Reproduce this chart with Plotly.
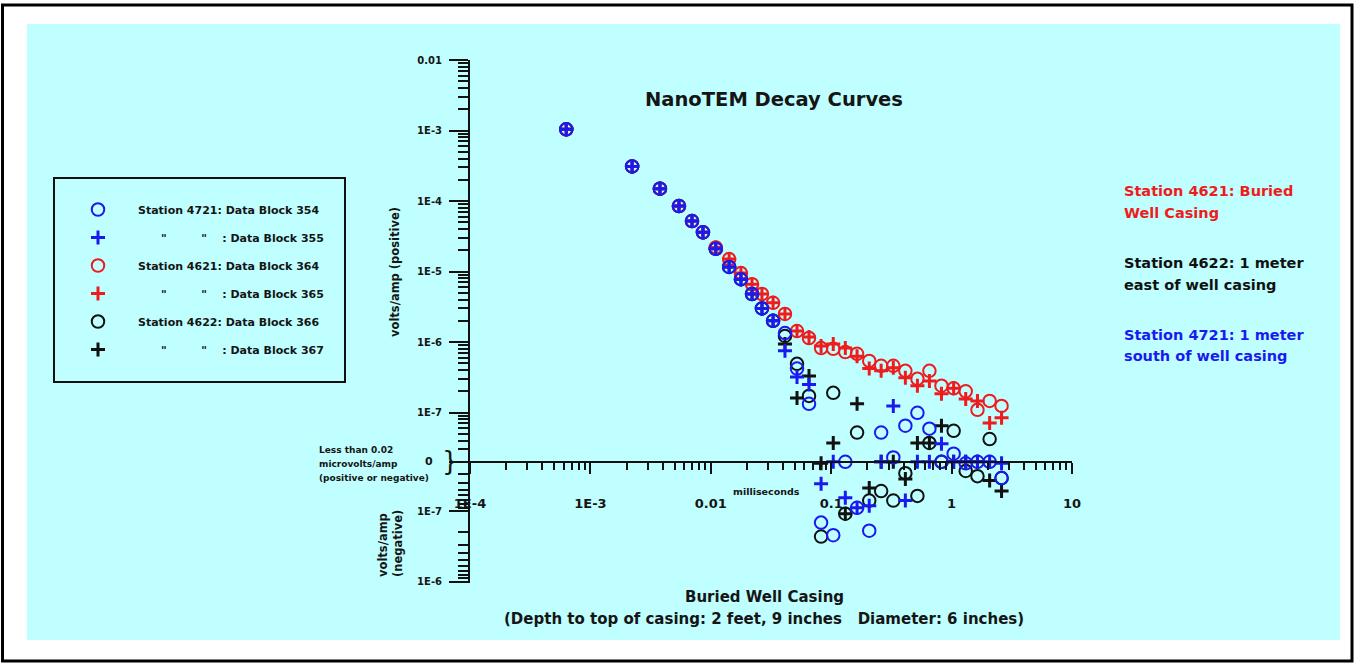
import math
import plotly.graph_objects as go

# ---------------- data (time in ms, response in volts/amp; negative = negative polarity,
# 0 = "less than 0.02 microvolts/amp") ----------------
gate_ms = [0.00063, 0.00222, 0.00378, 0.00544, 0.00698, 0.00861, 0.0110, 0.0142, 0.0178,
           0.0220, 0.0266, 0.0329, 0.0413, 0.0520, 0.0654, 0.0824, 0.104, 0.131, 0.164,
           0.207, 0.260, 0.328, 0.413, 0.520, 0.654, 0.824, 1.04, 1.31, 1.64, 2.07, 2.60]

block_354 = [1.04e-3, 3.1e-4, 1.5e-4, 8.5e-5, 5.2e-5, 3.6e-5, 2.1e-5, 1.16e-5, 7.8e-6, 4.8e-6,
             3.0e-6, 2.0e-6, 1.34e-6, 4.2e-7, 1.33e-7, -1.46e-7, -2.2e-7, 0, -9.0e-8, -1.9e-7,
             5.2e-8, 2.3e-8, 6.5e-8, 9.9e-8, 5.9e-8, 0, 2.6e-8, -2.1e-8, 0, 0, -3.4e-8]
block_355 = [1.04e-3, 3.1e-4, 1.5e-4, 8.5e-5, 5.2e-5, 3.6e-5, 2.1e-5, 1.16e-5, 7.8e-6, 4.8e-6,
             3.0e-6, 2.0e-6, 7.5e-7, 3.2e-7, 2.5e-7, -4.1e-8, 0, -6.5e-8, -9.0e-8, -8.4e-8,
             0, 1.24e-7, -7.1e-8, 0, 0, 3.6e-8, 0, 0, 0, 0, -2.1e-8]
block_364 = [1.04e-3, 3.1e-4, 1.5e-4, 8.5e-5, 5.2e-5, 3.6e-5, 2.2e-5, 1.5e-5, 9.5e-6, 6.6e-6,
             4.8e-6, 3.6e-6, 2.5e-6, 1.43e-6, 1.14e-6, 8.2e-7, 8.0e-7, 7.2e-7, 6.8e-7, 5.4e-7,
             4.6e-7, 4.6e-7, 3.9e-7, 3.0e-7, 3.9e-7, 2.4e-7, 2.2e-7, 2.0e-7, 1.09e-7, 1.46e-7, 1.24e-7]
block_365 = [1.04e-3, 3.1e-4, 1.5e-4, 8.5e-5, 5.2e-5, 3.6e-5, 2.2e-5, 1.5e-5, 9.5e-6, 6.6e-6,
             4.8e-6, 3.6e-6, 2.5e-6, 1.43e-6, 1.18e-6, 8.8e-7, 9.4e-7, 8.2e-7, 6.3e-7, 4.2e-7,
             3.9e-7, 4.3e-7, 3.1e-7, 2.4e-7, 2.8e-7, 1.84e-7, 2.2e-7, 1.56e-7, 1.46e-7, 7.1e-8, 8.4e-8]
block_366 = [1.04e-3, 3.1e-4, 1.5e-4, 8.5e-5, 5.2e-5, 3.6e-5, 2.1e-5, 1.16e-5, 7.8e-6, 4.8e-6,
             3.0e-6, 2.0e-6, 1.22e-6, 4.9e-7, 1.72e-7, -2.3e-7, 1.9e-7, -1.09e-7, 5.2e-8, -7.1e-8,
             -5.2e-8, -7.1e-8, -2.9e-8, -6.1e-8, 3.7e-8, 0, 5.5e-8, -2.7e-8, -3.2e-8, 4.2e-8, -3.4e-8]
block_367 = [1.04e-3, 3.1e-4, 1.5e-4, 8.5e-5, 5.2e-5, 3.6e-5, 2.1e-5, 1.16e-5, 7.8e-6, 4.8e-6,
             3.0e-6, 2.0e-6, 9.4e-7, 1.6e-7, 3.3e-7, -2.1e-8, 3.7e-8, -1.09e-7, 1.33e-7, -4.7e-8,
             0, 0, -3.5e-8, 3.7e-8, 3.7e-8, 6.5e-8, 0, 0, 0, -3.7e-8, -5.2e-8]

x_tick_vals = [1e-4, 1e-3, 0.01, 0.1, 1, 10]
x_tick_text = ["1E-4", "1E-3", "0.01", "0.1", "1", "10"]
y_tick_vals = [0.01, 1e-3, 1e-4, 1e-5, 1e-6, 1e-7, -1e-7, -1e-6]
y_tick_text = ["0.01", "1E-3", "1E-4", "1E-5", "1E-6", "1E-7", "1E-7", "1E-6"]

FLOOR = 2e-8  # 0.02 microvolts/amp


def to_axis(v):
    """Two-sided log scale: positive decades above the axis, negative below."""
    if abs(v) <= FLOOR:
        return 0.0
    return math.copysign(math.log10(abs(v) / FLOOR), v)


# ---------------- geometry ----------------
W, H = 1356, 664
L, R, T, B = 470, 284, 60, 81
PW, PH = W - L - R, H - T - B
Y_MIN, Y_MAX = -1.72, 5.70


def px(x):
    return (x - L) / PW


def py(y):
    return (H - B - y) / PH


BLUE, RED, BLACK = "#1a1af0", "#ee1c1c", "#111111"
TXT = "#151515"
FAM = "DejaVu Sans"

fig = go.Figure()

ditto = "\u00a0" * 6 + '"' + "\u00a0" * 9 + '"' + "\u00a0" * 4
series = [
    (block_366, "Station 4622: Data Block 366", BLACK, "c", 5),
    (block_367, ditto + ": Data Block 367", BLACK, "x", 6),
    (block_364, "Station 4621: Data Block 364", RED, "c", 3),
    (block_365, ditto + ": Data Block 365", RED, "x", 4),
    (block_354, "Station 4721: Data Block 354", BLUE, "c", 1),
    (block_355, ditto + ": Data Block 355", BLUE, "x", 2),
]
for vals, name, col, kind, rank in series:
    if kind == "c":
        marker = dict(symbol="circle-open", size=12.5, color=col, line=dict(width=2, color=col))
    else:
        marker = dict(symbol="cross-thin-open", size=10, color=col, line=dict(width=3, color=col))
    fig.add_trace(go.Scatter(
        x=gate_ms, y=[to_axis(v) for v in vals], mode="markers", name=name,
        marker=marker, legendgroup=name, legendrank=rank, cliponaxis=False,
    ))

# ticks
minor_x = [k * 10 ** d for d in range(-4, 1) for k in range(2, 10)]
minor_y = []
for d in range(-8, -2):
    for k in range(2, 10):
        v = k * 10 ** d
        if FLOOR < v < 0.01:
            minor_y.append(to_axis(v))
for d in range(-8, -6):
    for k in range(2, 10):
        v = k * 10 ** d
        if FLOOR < v < 1e-6:
            minor_y.append(to_axis(-v))

tickfont_x = dict(family=FAM, size=13, color=TXT, weight="bold")
tickfont_y = dict(family=FAM, size=10, color=TXT, weight="bold")

fig.update_layout(
    width=W, height=H, autosize=False,
    margin=dict(l=L, r=R, t=T, b=B, pad=0),
    paper_bgcolor="white", plot_bgcolor="rgba(0,0,0,0)",
    showlegend=True,
    legend=dict(
        x=px(58), y=py(195), xanchor="left", yanchor="top",
        bgcolor="rgba(0,0,0,0)", borderwidth=0,
        font=dict(family=FAM, size=11, color=TXT, weight="bold"),
        itemwidth=70, tracegroupgap=9, itemclick=False, itemdoubleclick=False,
    ),
    xaxis=dict(
        type="log", range=[-4, 1], anchor="free",
        position=(0 - Y_MIN) / (Y_MAX - Y_MIN),
        showline=True, linecolor=BLACK, linewidth=2,
        ticks="outside", ticklen=11, tickwidth=2, tickcolor=BLACK,
        tickmode="array", tickvals=x_tick_vals, ticktext=x_tick_text,
        tickfont=tickfont_x, ticklabelstandoff=19,
        minor=dict(tickmode="array", tickvals=minor_x, ticks="outside", ticklen=7,
                   tickwidth=2, tickcolor=BLACK, showgrid=False),
        showgrid=False, zeroline=False,
    ),
    yaxis=dict(
        range=[Y_MIN, Y_MAX],
        showline=True, linecolor=BLACK, linewidth=2,
        ticks="outside", ticklen=19, tickwidth=2, tickcolor=BLACK,
        tickmode="array", tickvals=[to_axis(v) for v in y_tick_vals] + [0.0],
        ticktext=y_tick_text + [""],
        tickfont=tickfont_y, ticklabelstandoff=5,
        minor=dict(tickmode="array", tickvals=minor_y, ticks="outside", ticklen=10,
                   tickwidth=2, tickcolor=BLACK, showgrid=False),
        showgrid=False, zeroline=False,
    ),
)

# background panel, frame, legend box
shapes = [
    dict(type="rect", xref="paper", yref="paper", x0=px(27), x1=px(1340), y0=py(24), y1=py(640),
         fillcolor="#bfffff", line=dict(width=0), layer="below"),
    dict(type="rect", xref="paper", yref="paper", x0=px(2.5), x1=px(1352), y0=py(5), y1=py(661),
         fillcolor="rgba(0,0,0,0)", line=dict(width=3, color="black"), layer="below"),
    dict(type="rect", xref="paper", yref="paper", x0=px(54), x1=px(345), y0=py(178), y1=py(382),
         fillcolor="rgba(0,0,0,0)", line=dict(width=2, color=BLACK), layer="above"),
]
fig.update_layout(shapes=shapes)


def ann(text, x, y, size, color=TXT, xanchor="center", angle=0, weight="bold"):
    fig.add_annotation(text=text, x=px(x), y=py(y), xref="paper", yref="paper",
                       xanchor=xanchor, yanchor="middle", showarrow=False, textangle=angle,
                       font=dict(family=FAM, size=size, color=color, weight=weight))


ann("NanoTEM Decay Curves", 774, 99, 19.5)
ann("Station 4621: Buried", 1122, 191, 14.5, RED, "left")
ann("Well Casing", 1122, 213, 14.5, RED, "left")
ann("Station 4622: 1 meter", 1122, 263, 14.5, BLACK, "left")
ann("east of well casing", 1122, 285, 14.5, BLACK, "left")
ann("Station 4721: 1 meter", 1122, 335, 14.5, BLUE, "left")
ann("south of well casing", 1122, 356, 14.5, BLUE, "left")
ann("Buried Well Casing", 764, 597, 15)
ann("(Depth to top of casing: 2 feet, 9 inches\u00a0\u00a0\u00a0Diameter: 6 inches)", 764, 619, 15)
ann("Less than 0.02", 317, 450, 9, xanchor="left")
ann("microvolts/amp", 317, 464, 9, xanchor="left")
ann("(positive or negative)", 317, 478, 9, xanchor="left")
ann("0", 429, 461, 11)
ann("}", 450, 461, 26, weight="normal")
ann("milliseconds", 766, 491, 9.5)
ann("volts/amp (positive)", 395, 272, 11.5, angle=-90)
ann("volts/amp", 383, 545, 11.5, angle=-90)
ann("(negative)", 398, 544, 11.5, angle=-90)

# the page's default 8px body margin would shift the 1356x664 figure; remove it
fig.write_html("out.html",
               config={"displayModeBar": False},
               post_script="document.body.style.margin='0px';document.body.style.overflow='hidden';")
